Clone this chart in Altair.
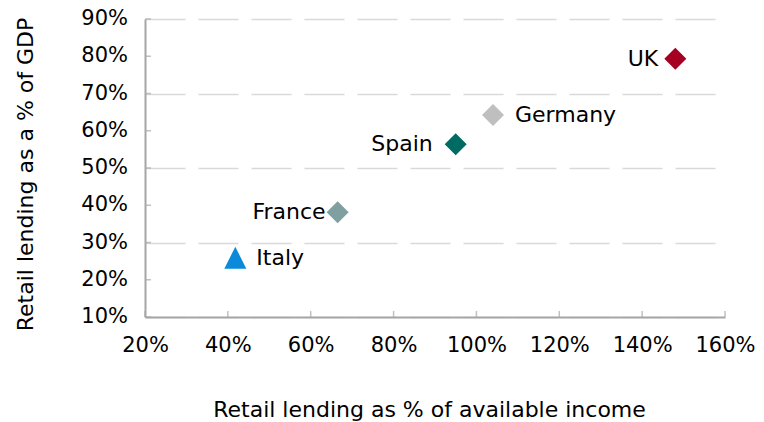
import altair as alt
import pandas as pd

countries = ["UK", "Germany", "Spain", "France", "Italy"]
income_share = [1.48, 1.04, 0.95, 0.665, 0.418]
gdp_share = [0.793, 0.642, 0.564, 0.381, 0.259]
colors = ["#A50021", "#BFBFBF", "#006B63", "#7F9FA1", "#0A8AD8"]
shapes = ["M0,-1L1,0L0,1L-1,0Z"] * 4 + ["M0,-1L1,1L-1,1Z"]

x_ticks = [0.2, 0.4, 0.6, 0.8, 1.0, 1.2, 1.4, 1.6]
y_ticks = [0.1, 0.2, 0.3, 0.4, 0.5, 0.6, 0.7, 0.8, 0.9]

# label placement (style): align, dx
label_style = {
    "UK": ("right", -17),
    "Germany": ("left", 22),
    "Spain": ("right", -23),
    "France": ("right", -12),
    "Italy": ("left", 21),
}

df = pd.DataFrame({"country": countries, "x": income_share, "y": gdp_share})
xt = pd.DataFrame({"v": x_ticks})
yt = pd.DataFrame({"v": y_ticks})

FONT = "DejaVu Sans"
W, H = 580, 298

xscale = alt.Scale(domain=[0.2, 1.6], nice=False, zero=False, padding=0)
yscale = alt.Scale(domain=[0.1, 0.9], nice=False, zero=False, padding=0)

xaxis = alt.Axis(
    values=x_ticks, format=".0%", grid=False, ticks=False, tickSize=0,
    labelOverlap=False, labelFlush=False,
    domainColor="#A6A6A6", domainWidth=2, labelPadding=17,
    labelFont=FONT, labelFontSize=21, labelColor="#000000",
    title="Retail lending as % of available income",
    titleFont=FONT, titleFontSize=22, titleFontWeight="normal", titleColor="#000000",
    titleX=284, titleY=92, titleBaseline="middle", titleAnchor="middle",
)
yaxis = alt.Axis(
    values=y_ticks, grid=True, gridColor="#D9D9D9", gridWidth=1.3,
    gridDash=[40, 13], ticks=False, tickSize=0, labels=False,
    domainColor="#A6A6A6", domainWidth=2,
    title="Retail lending as a % of GDP",
    titleFont=FONT, titleFontSize=22, titleFontWeight="normal", titleColor="#000000",
    titleX=-120, titleY=155, titleBaseline="middle", titleAngle=-90, titleAnchor="middle",
)

points = alt.Chart(df).mark_point(filled=True, size=484, opacity=1, strokeWidth=0).encode(
    x=alt.X("x:Q", scale=xscale, axis=xaxis),
    y=alt.Y("y:Q", scale=yscale, axis=yaxis),
    color=alt.Color("country:N", scale=alt.Scale(domain=countries, range=colors), legend=None),
    shape=alt.Shape("country:N", scale=alt.Scale(domain=countries, range=shapes), legend=None),
)

labels = []
for c in countries:
    align, dx = label_style[c]
    labels.append(
        alt.Chart(df).transform_filter(alt.datum.country == c)
        .mark_text(align=align, baseline="middle", dx=dx, font=FONT, fontSize=22, color="#000000")
        .encode(x=alt.X("x:Q", scale=xscale), y=alt.Y("y:Q", scale=yscale), text="country:N")
    )

xticks_in = alt.Chart(xt).mark_tick(color="#A6A6A6", size=6, thickness=1.5, orient="vertical").encode(
    x=alt.X("v:Q", scale=xscale), y=alt.value(H - 3)
)
yticks_in = alt.Chart(yt).mark_tick(color="#A6A6A6", size=6, thickness=1.5, orient="horizontal").encode(
    y=alt.Y("v:Q", scale=yscale), x=alt.value(3)
)
ylabels = alt.Chart(yt).mark_text(
    align="right", baseline="middle", font=FONT, fontSize=21, color="#000000"
).encode(
    y=alt.Y("v:Q", scale=yscale), x=alt.value(-17), text=alt.Text("v:Q", format=".0%")
)

chart = alt.layer(points, xticks_in, yticks_in, ylabels, *labels).properties(
    width=W, height=H,
    padding={"left": 137, "top": 11, "right": 31, "bottom": 104},
    autosize="none",
).configure(
    background="#FFFFFF",
    view=alt.ViewConfig(stroke=None),
    axis=alt.AxisConfig(labelOverlap=False, labelFlush=False),
)

chart.save("out.html", embed_options={"renderer": "svg", "actions": False})
